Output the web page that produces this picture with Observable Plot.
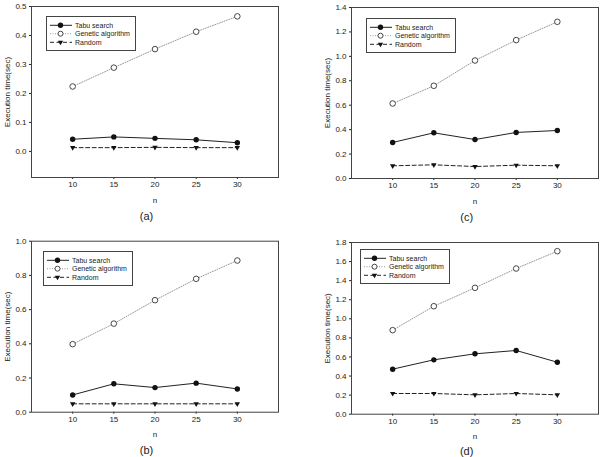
<!DOCTYPE html>
<html><head><meta charset="utf-8">
<script src="https://cdn.jsdelivr.net/npm/d3@7"></script>
<script src="https://cdn.jsdelivr.net/npm/@observablehq/plot@0.6"></script>
<style>
html,body{margin:0;padding:0;background:#fff;}
#wrap{position:relative;width:600px;height:457px;font-family:"Liberation Sans",Arial,sans-serif;overflow:hidden;}
.panel{position:absolute;}
.cap{position:absolute;font-size:11px;transform:translate(-50%,-50%);color:#222;white-space:nowrap;}
.legend{position:absolute;}
</style></head><body><div id="wrap"></div>
<script>
// ---- data ----
const nValues = [10, 15, 20, 25, 30];
const xTicks = [10, 15, 20, 25, 30];
const seriesNames = ["Tabu search", "Genetic algorithm", "Random"];

const tabuA = [0.042, 0.050, 0.045, 0.040, 0.030];
const gaA   = [0.224, 0.289, 0.353, 0.413, 0.466];
const randA = [0.013, 0.013, 0.014, 0.013, 0.013];
const yTicksA = [0.0, 0.1, 0.2, 0.3, 0.4, 0.5];

const tabuB = [0.101, 0.166, 0.144, 0.170, 0.136];
const gaB   = [0.398, 0.518, 0.655, 0.780, 0.887];
const randB = [0.049, 0.049, 0.049, 0.049, 0.049];
const yTicksB = [0.0, 0.2, 0.4, 0.6, 0.8, 1.0];

const tabuC = [0.295, 0.374, 0.319, 0.377, 0.393];
const gaC   = [0.614, 0.759, 0.966, 1.133, 1.283];
const randC = [0.104, 0.112, 0.098, 0.109, 0.104];
const yTicksC = [0.0, 0.2, 0.4, 0.6, 0.8, 1.0, 1.2, 1.4];

const tabuD = [0.472, 0.570, 0.633, 0.668, 0.545];
const gaD   = [0.881, 1.132, 1.325, 1.527, 1.709];
const randD = [0.217, 0.217, 0.203, 0.217, 0.203];
const yTicksD = [0.0, 0.2, 0.4, 0.6, 0.8, 1.0, 1.2, 1.4, 1.6, 1.8];

// ---- layout ----
const panels = [
  {cap: "(a)", tabu: tabuA, ga: gaA, rand: randA, yDomain: [-0.09, 0.5], yTicks: yTicksA,
   left: 0, top: 0, w: 300, h: 228, m: {l: 31, r: 22, t: 6, b: 51}, lg: {x: 46, y: 16}, cp: {x: 146.5, y: 216}},
  {cap: "(c)", tabu: tabuC, ga: gaC, rand: randC, yDomain: [0, 1.4], yTicks: yTicksC,
   left: 300, top: 0, w: 300, h: 228, m: {l: 51, r: 2, t: 7, b: 50}, lg: {x: 366, y: 18}, cp: {x: 466.7, y: 217}},
  {cap: "(b)", tabu: tabuB, ga: gaB, rand: randB, yDomain: [0, 1.0], yTicks: yTicksB,
   left: 0, top: 228, w: 300, h: 229, m: {l: 31, r: 22, t: 12.7, b: 45.3}, lg: {x: 43, y: 251}, cp: {x: 146.5, y: 449.7}},
  {cap: "(d)", tabu: tabuD, ga: gaD, rand: randD, yDomain: [0, 1.8], yTicks: yTicksD,
   left: 300, top: 228, w: 300, h: 229, m: {l: 51, r: 2, t: 14, b: 43.3}, lg: {x: 360, y: 249}, cp: {x: 466.7, y: 450.7}}
];

const wrap = document.getElementById("wrap");
const toRows = arr => nValues.map((n, i) => ({n, v: arr[i]}));

for (const p of panels) {
  const T = toRows(p.tabu), G = toRows(p.ga), R = toRows(p.rand);
  const chart = Plot.plot({
    width: p.w, height: p.h,
    marginLeft: p.m.l, marginRight: p.m.r, marginTop: p.m.t, marginBottom: p.m.b,
    style: {fontFamily: "'Liberation Sans', Arial, sans-serif", fontSize: "8px", color: "#222", background: "transparent", overflow: "visible"},
    x: {domain: [5, 35], ticks: xTicks, tickSize: 2, tickPadding: 2, label: "n", labelAnchor: "center", labelOffset: 25, labelArrow: "none"},
    y: {domain: p.yDomain, ticks: p.yTicks, tickFormat: d3.format(".1f"), tickSize: 2, tickPadding: 3,
        label: "Execution time(sec)", labelAnchor: "center", labelOffset: 27, labelArrow: "none"},
    marks: [
      Plot.line(G, {x: "n", y: "v", stroke: "#999", strokeWidth: 1, strokeDasharray: "1,1.5"}),
      Plot.line(T, {x: "n", y: "v", stroke: "#222", strokeWidth: 1}),
      Plot.line(R, {x: "n", y: "v", stroke: "#222", strokeWidth: 1, strokeDasharray: "4,2.5"}),
      Plot.dot(G, {x: "n", y: "v", r: 2.8, fill: "white", stroke: "#333", strokeWidth: 0.9}),
      Plot.dot(T, {x: "n", y: "v", r: 2.7, fill: "#111"}),
      Plot.dot(R, {x: "n", y: "v", r: 2, symbol: "triangle", rotate: 180, fill: "#111"}),
      Plot.frame({stroke: "#444", strokeWidth: 1})
    ]
  });
  chart.classList.add("panel");
  chart.style.left = p.left + "px";
  chart.style.top = p.top + "px";
  wrap.appendChild(chart);

  // legend
  const ns = "http://www.w3.org/2000/svg";
  const lg = document.createElementNS(ns, "svg");
  lg.setAttribute("class", "legend");
  lg.setAttribute("width", 90); lg.setAttribute("height", 35);
  lg.style.left = p.lg.x + "px"; lg.style.top = p.lg.y + "px";
  lg.innerHTML = `
    <rect x="0.5" y="0.5" width="89" height="34" fill="white" stroke="#444" stroke-width="1"/>
    <line x1="4" x2="26" y1="9.3" y2="9.3" stroke="#222" stroke-width="1"/>
    <circle cx="14.5" cy="9.3" r="2.7" fill="#111"/>
    <line x1="4" x2="26" y1="17.7" y2="17.7" stroke="#999" stroke-width="1" stroke-dasharray="1,1.5"/>
    <circle cx="14.5" cy="17.7" r="2.5" fill="white" stroke="#333" stroke-width="0.9"/>
    <line x1="4" x2="26" y1="26.3" y2="26.3" stroke="#222" stroke-width="1" stroke-dasharray="4,2.5"/>
    <path d="M11.8,24.8 L17.2,24.8 L14.5,29.3 Z" fill="#111"/>
    <g font-family="'Liberation Sans', Arial, sans-serif" font-size="7" fill="#222">
      <text x="29" y="9.3" dy="0.35em">${seriesNames[0]}</text>
      <text x="29" y="17.7" dy="0.35em">${seriesNames[1]}</text>
      <text x="29" y="26.3" dy="0.35em">${seriesNames[2]}</text>
    </g>`;
  wrap.appendChild(lg);

  const c = document.createElement("div");
  c.className = "cap";
  c.textContent = p.cap;
  c.style.left = p.cp.x + "px"; c.style.top = p.cp.y + "px";
  wrap.appendChild(c);
}
</script></body></html>
